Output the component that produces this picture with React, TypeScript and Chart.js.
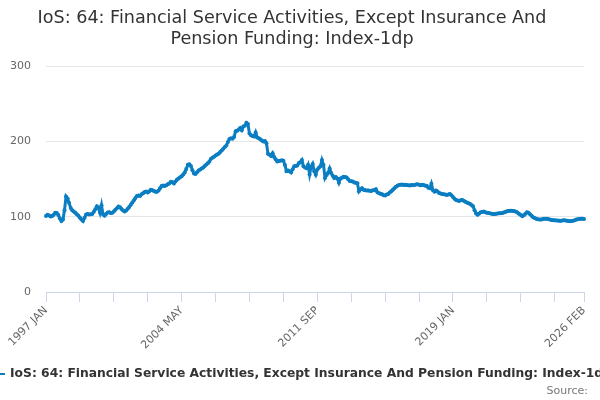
import { useEffect, useRef } from 'react';
import { Chart, registerables } from 'chart.js';

Chart.register(...registerables);

const monthNames = ['JAN', 'FEB', 'MAR', 'APR', 'MAY', 'JUN', 'JUL', 'AUG', 'SEP', 'OCT', 'NOV', 'DEC'];
const firstYear = 1997;
const lastYear = 2026;
const lastMonth = 2; // FEB

// monthly index values, one row per year
const values1997to2004 = [
  101, 102.5, 101.5, 100.2, 100.8, 102.4, 105.3, 104.8, 102.1, 97.6, 94.2, 96.1,
  108.4, 126.8, 124.1, 118.2, 111.6, 108.7, 106.9, 105.2, 103.1, 101.4, 98.6, 96.3,
  94.1, 98.7, 102.8, 103.4, 102.9, 103.2, 103.6, 106.4, 109.8, 113.7, 111.9, 105.3,
  115.2, 102.8, 101.4, 103.5, 105.7, 105.9, 104.8, 105.2, 106.9, 109.1, 111.2, 113.6,
  112.4, 110.2, 108.1, 106.9, 108.3, 110.6, 112.7, 115.9, 118.8, 121.7, 124.9, 127.6,
  128.2, 127.4, 129.9, 131.1, 132.8, 133.4, 132.1, 133.6, 135.9, 135.2, 134.1, 133.2,
  133.1, 134.8, 137.9, 140.6, 141.3, 140.8, 141.6, 143.2, 144.1, 146.3, 145.8, 144.2,
  146.7, 149.2, 150.8, 152.4, 153.6, 155.9, 158.7, 163.4, 168.9, 169.6, 167.2, 161.5,
];
const values2005to2012 = [
  157.3, 156.8, 158.9, 161.2, 162.7, 164.1, 165.3, 167.4, 169.2, 171.1, 173.4, 176.8,
  178.2, 179.6, 181.1, 182.4, 183.7, 185.9, 187.8, 190.2, 192.4, 194.6, 199.1, 203.2,
  204.1, 203.6, 205.8, 213.4, 214.2, 215.6, 217.9, 214.8, 219.6, 220.8, 224.7, 223.1,
  210.4, 208.2, 207.1, 206.3, 211.8, 205.2, 204.1, 202.8, 201.3, 199.7, 200.4, 197.6,
  183.4, 182.1, 180.6, 184.2, 179.3, 176.1, 173.2, 173.8, 174.4, 174.9, 174.2, 168.7,
  160.4, 161.3, 160.2, 158.7, 162.9, 166.8, 167.3, 168.1, 171.2, 172.4, 175.2, 166.9,
  165.2, 164.3, 168.8, 156.1, 166.2, 170.1, 160.4, 155.8, 162.7, 164.9, 166.8, 175.1,
  168.7, 151.4, 155.2, 158.3, 164.1, 157.9, 154.2, 151.3, 152.8, 150.6, 144.9, 150.8,
];
const values2013to2020 = [
  151.6, 153.1, 152.7, 152.1, 149.8, 147.4, 147.2, 146.6, 145.3, 145.1, 144.3, 133.6,
  136.4, 137.9, 135.6, 135.2, 134.7, 134.9, 134.3, 134.1, 135.2, 135.0, 136.4, 132.3,
  131.2, 130.4, 129.8, 128.6, 128.2, 129.4, 130.1, 132.2, 133.8, 135.6, 137.9, 139.8,
  141.2, 142.1, 142.4, 142.6, 142.2, 142.5, 142.0, 141.6, 141.3, 142.1, 141.8, 142.2,
  142.7, 142.9, 142.3, 141.7, 142.4, 142.1, 141.2, 140.9, 138.4, 137.6, 143.8, 135.1,
  133.2, 134.6, 133.4, 131.5, 130.8, 130.2, 129.9, 129.3, 128.9, 129.6, 130.1, 128.4,
  126.2, 123.9, 122.1, 121.6, 120.9, 121.8, 122.3, 121.1, 119.8, 118.7, 117.9, 117.1,
  115.6, 113.9, 108.6, 104.3, 102.6, 104.2, 105.8, 106.3, 106.8, 105.9, 105.3, 104.8,
];
const values2021to2026 = [
  104.4, 103.9, 103.5, 103.6, 103.8, 104.2, 104.6, 104.5, 104.9, 105.6, 106.3, 107.1,
  107.4, 107.8, 107.9, 107.6, 107.2, 106.4, 105.1, 103.6, 102.2, 100.6, 101.8, 103.9,
  105.8, 105.1, 103.2, 101.4, 99.1, 98.2, 97.1, 96.6, 96.2, 96.1, 96.7, 97.3,
  97.1, 97.2, 96.6, 96.1, 95.6, 95.2, 95.1, 94.9, 95.0, 94.7, 94.6, 94.9,
  95.1, 94.8, 94.5, 94.2, 93.8, 94.1, 94.7, 95.3, 96.1, 96.7, 97.0, 97.2,
  97.1, 96.8,
];

const seriesName = 'IoS: 64: Financial Service Activities, Except Insurance And Pension Funding: Index-1dp';
const titleLines = ['IoS: 64: Financial Service Activities, Except Insurance And', 'Pension Funding: Index-1dp'];
const yTicks = [0, 100, 200, 300];

const labels: string[] = [];
for (let y = firstYear; y <= lastYear; y++) {
  const n = y === lastYear ? lastMonth : 12;
  for (let m = 0; m < n; m++) labels.push(`${y} ${monthNames[m]}`);
}
const values = [...values1997to2004, ...values2005to2012, ...values2013to2020, ...values2021to2026];

const lineColor = '#0b7ec2';
const tickEvery = 22;
const labelEvery = 88;

const legendSource = {
  id: 'legendSource',
  afterDraw(chart) {
    const ctx = chart.ctx;
    ctx.save();
    ctx.strokeStyle = lineColor;
    ctx.lineWidth = 2;
    ctx.beginPath();
    ctx.moveTo(-11, 374);
    ctx.lineTo(5, 374);
    ctx.stroke();
    ctx.font = 'bold 12.3px "DejaVu Sans"';
    ctx.fillStyle = '#333333';
    ctx.textBaseline = 'middle';
    ctx.textAlign = 'left';
    ctx.fillText(seriesName, 10, 374);
    ctx.font = '11px "DejaVu Sans"';
    ctx.fillStyle = '#777777';
    ctx.textAlign = 'right';
    ctx.fillText('Source:', 588, 391);
    ctx.restore();
  },
};

const App = () => {
  const canvasRef = useRef(null);
  const chartRef = useRef(null);

  useEffect(() => {
    document.body.style.margin = '0';
    if (chartRef.current) chartRef.current.destroy();
    Chart.defaults.font.family = '"DejaVu Sans"';

    chartRef.current = new Chart(canvasRef.current.getContext('2d'), {
      type: 'line',
      data: {
        labels,
        datasets: [{
          label: seriesName,
          data: values,
          borderColor: lineColor,
          backgroundColor: lineColor,
          borderWidth: 3,
          pointRadius: 2,
          pointBorderWidth: 0,
          pointBackgroundColor: lineColor,
          tension: 0,
          fill: false,
        }],
      },
      options: {
        responsive: false,
        animation: false,
        layout: { padding: { left: 0, right: 16, top: 0, bottom: 50 } },
        plugins: {
          legend: { display: false },
          tooltip: { enabled: false },
          title: {
            display: true,
            text: titleLines,
            color: '#333333',
            font: { size: 17.6, weight: 'normal', lineHeight: 1.2 },
            padding: { top: 8, bottom: 15.8 },
          },
        },
        scales: {
          x: {
            type: 'category',
            afterBuildTicks(scale) {
              const t = [];
              for (let i = 0; i < labels.length - 1; i += tickEvery) t.push({ value: i });
              t.push({ value: labels.length - 1 });
              scale.ticks = t;
            },
            afterFit(scale) {
              scale.height = 58;
              scale.paddingLeft = 0;
              scale.paddingRight = 0;
            },
            ticks: {
              autoSkip: false,
              maxRotation: 45,
              minRotation: 45,
              padding: 2,
              color: '#666666',
              font: { size: 11 },
              callback(value) {
                const i = Number(value);
                return i % labelEvery === 0 || i === labels.length - 1 ? labels[i] : '';
              },
            },
            grid: { drawOnChartArea: false, color: '#ccd6eb', tickLength: 10 },
            border: { color: '#ccd6eb' },
          },
          y: {
            min: 0,
            max: 300,
            afterBuildTicks(scale) {
              scale.ticks = yTicks.map(v => ({ value: v }));
            },
            afterFit(scale) {
              scale.width = 46;
            },
            ticks: { color: '#666666', font: { size: 11 }, padding: 15 },
            grid: { color: '#e6e6e6', drawTicks: false },
            border: { display: false },
          },
        },
      },
      plugins: [legendSource],
    });

    return () => {
      if (chartRef.current) {
        chartRef.current.destroy();
        chartRef.current = null;
      }
    };
  }, []);

  return (
    <div style={{ width: 600, height: 400 }}>
      <canvas ref={canvasRef} width={600} height={400}></canvas>
    </div>
  );
};

export default App;
